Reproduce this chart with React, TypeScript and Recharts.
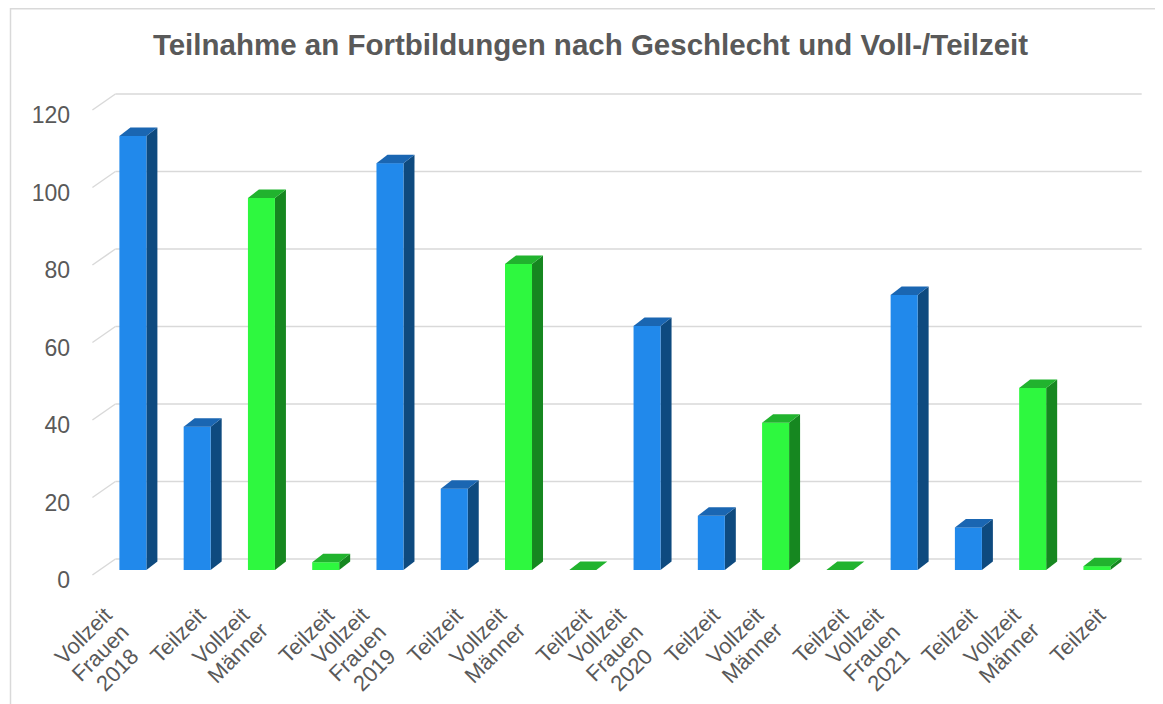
import React from 'react';
import { BarChart, Bar, XAxis, YAxis, CartesianGrid } from 'recharts';

const years = ['2018', '2019', '2020', '2021'];
const genders = ['Frauen', 'Männer'];
const modes = ['Vollzeit', 'Teilzeit'];
const frauenVollzeit = [112, 105, 63, 71];
const frauenTeilzeit = [37, 21, 14, 11];
const maennerVollzeit = [96, 79, 38, 47];
const maennerTeilzeit = [2, 0, 0, 1];
const yTicks = [0, 20, 40, 60, 80, 100, 120];
const title = 'Teilnahme an Fortbildungen nach Geschlecht und Voll-/Teilzeit';

const seriesByGender: Record<string, number[][]> = {
  Frauen: [frauenVollzeit, frauenTeilzeit],
  'Männer': [maennerVollzeit, maennerTeilzeit],
};

type Row = { key: string; gender: string; value: number; lines: string[] };
const data: Row[] = [];
years.forEach((yr, yi) =>
  genders.forEach((g, gi) =>
    modes.forEach((m, mi) => {
      const lines = [m];
      if (mi === 0) {
        lines.push(g);
        if (gi === 0) lines.push(yr);
      }
      data.push({ key: `${yr}-${g}-${m}`, gender: g, value: seriesByGender[g][mi][yi], lines });
    })
  )
);

const palette: Record<string, { front: string; side: string; top: string }> = {
  Frauen: { front: '#2189EB', side: '#0E4A7F', top: '#1A66B2' },
  'Männer': { front: '#2EF83F', side: '#168720', top: '#21B32E' },
};

const TEXT = '#595959';
const FONT = '"Liberation Sans", Arial, sans-serif';
const W = 1155;
const H = 696;
const DX = 11;
const DY = 8.5;

const widths: Record<string, number> = {
  V: 0.667, o: 0.556, l: 0.222, z: 0.5, e: 0.556, i: 0.222, t: 0.278, T: 0.611, F: 0.611,
  r: 0.333, a: 0.556, u: 0.556, n: 0.556, M: 0.833, 'ä': 0.556,
};
const textW = (s: string, fs: number) =>
  s.split('').reduce((acc, ch) => acc + (widths[ch] ?? 0.556), 0) * fs;

const Bar3D = (props: any) => {
  const { x, y, width, height } = props;
  const gender = props.gender ?? props.payload?.gender;
  const c = palette[gender] || palette.Frauen;
  const h = Math.max(0, height || 0);
  const top = `${x},${y} ${x + DX},${y - DY} ${x + width + DX},${y - DY} ${x + width},${y}`;
  const side = `${x + width},${y} ${x + width + DX},${y - DY} ${x + width + DX},${y + h - DY} ${x + width},${y + h}`;
  return (
    <g>
      {h > 0 && <polygon points={side} fill={c.side} />}
      {h > 0 && <rect x={x} y={y} width={width} height={h} fill={c.front} />}
      <polygon points={top} fill={c.top} />
    </g>
  );
};

const X_FS = 22;
const LINE_H = 24;
const labelOffsets = [0, 0, -21, -30];
const C = Math.SQRT1_2;

const XTick = (props: any) => {
  const { x, payload } = props;
  const idx = payload?.index ?? 0;
  const row = data[idx];
  if (!row) return null;
  const n = row.lines.length;
  const topX = x + labelOffsets[n];
  const topY = 597;
  const cap = 0.716 * X_FS * C;
  const ex = topX + cap;
  const ey = topY + cap;
  const w1 = textW(row.lines[0], X_FS);
  return (
    <g transform={`translate(${ex},${ey}) rotate(-45)`}>
      {row.lines.map((ln, i) => (
        <text
          key={i}
          x={-w1 / 2}
          y={i * LINE_H}
          textAnchor="middle"
          fontSize={X_FS}
          fontFamily={FONT}
          fill={TEXT}
        >
          {ln}
        </text>
      ))}
    </g>
  );
};

const YTick = (props: any) => {
  const { y, payload } = props;
  return (
    <text x={62} y={y + 10} dy="0.36em" textAnchor="end" fontSize={23} fontFamily={FONT} fill={TEXT}>
      {payload.value}
    </text>
  );
};

const GridLine = (props: any) => {
  const { x1, x2, y1 } = props;
  return (
    <g key={props.key}>
      <line x1={x1 - 8} y1={y1 + 5} x2={x1 + 15} y2={y1 - 11} stroke="#D9D9D9" strokeWidth={1.5} />
      <line x1={x1 + 15} y1={y1 - 11} x2={x2 + 13} y2={y1 - 11} stroke="#D9D9D9" strokeWidth={1.5} />
    </g>
  );
};

export default function App() {
  return (
    <div style={{ position: 'relative', width: W, height: H, overflow: 'hidden', background: '#fff' }}>
      <svg width={W} height={H} style={{ position: 'absolute', left: 0, top: 0 }}>
        <rect x={2.5} y={0.75} width={1200} height={800} fill="#fff" stroke="#D9D9D9" strokeWidth={1.5} />
        <text
          x={582.5}
          y={47}
          textAnchor="middle"
          fontSize={29.5}
          fontWeight="bold"
          fontFamily={FONT}
          fill={TEXT}
        >
          {title}
        </text>
      </svg>
      <div style={{ position: 'absolute', left: 0, top: 0 }}>
        <BarChart
          width={W}
          height={H}
          data={data}
          margin={{ top: 97, right: 34.3, bottom: 0, left: 0 }}
          barSize={27}
        >
          <CartesianGrid vertical={false} horizontal={(p: any) => <GridLine {...p} />} />
          <XAxis
            dataKey="key"
            interval={0}
            tickLine={false}
            axisLine={false}
            height={134}
            tick={<XTick />}
          />
          <YAxis
            domain={[0, 120]}
            ticks={yTicks}
            width={92.4}
            tickLine={false}
            axisLine={false}
            tick={<YTick />}
            interval={0}
          />
          <Bar dataKey="value" isAnimationActive={false} shape={<Bar3D />} />
        </BarChart>
      </div>
    </div>
  );
}
